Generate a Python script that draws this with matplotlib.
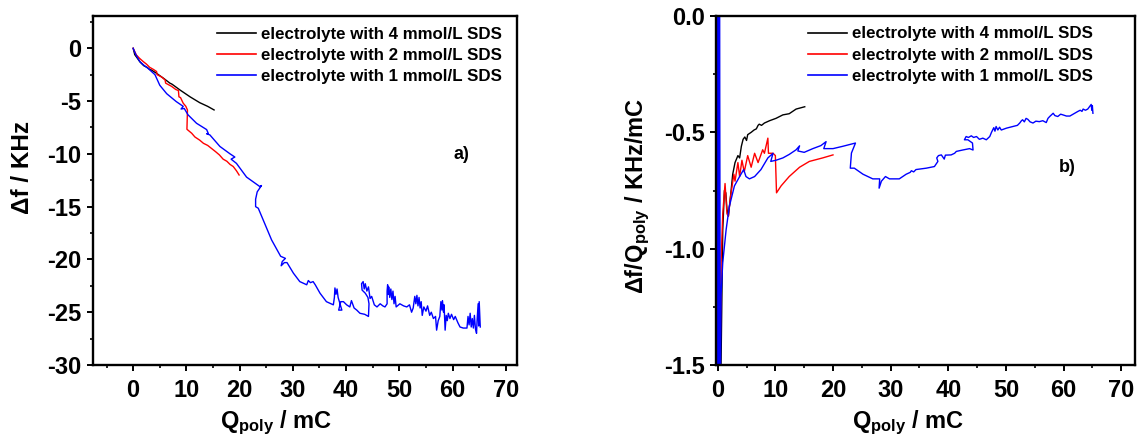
import matplotlib
matplotlib.use("Agg")
import matplotlib.pyplot as plt
from matplotlib.ticker import MultipleLocator

plt.rcParams['font.family'] = ['Liberation Sans', 'DejaVu Sans']
plt.rcParams['font.weight'] = 'bold'
plt.rcParams['mathtext.fontset'] = 'custom'
plt.rcParams['mathtext.rm'] = 'Liberation Sans:bold'
plt.rcParams['mathtext.bf'] = 'Liberation Sans:bold'
plt.rcParams['mathtext.it'] = 'Liberation Sans:bold'

labels = ["electrolyte with 4 mmol/L SDS",
          "electrolyte with 2 mmol/L SDS",
          "electrolyte with 1 mmol/L SDS"]
colors = ["#000000", "#ff0000", "#0000ff"]

# ---- panel a: delta f vs Q ----
q_black_a = [0, 0.3, 0.8, 1.3, 2.0, 2.6, 3.1, 3.4, 4.4, 5.3, 5.6, 6.9, 7.3, 8.8, 10.7, 12.5, 14.0, 15.2]
df_black_a = [0, -0.6, -0.95, -1.3, -1.65, -1.8, -2.0, -2.05, -2.37, -2.7, -2.8, -3.3, -3.4, -3.95, -4.6, -5.15, -5.5, -5.84]

q_red_a = [0, 0.6, 1.2, 1.9, 2.5, 3.1, 3.8, 4.4, 4.5, 5.3, 6.0, 6.1, 7.2, 8.0, 8.5, 8.6, 8.9, 9.4, 9.9, 10.2,
           10.1, 11.0, 11.6, 12.5, 13.2, 14.0, 15.0, 15.5, 16.2, 16.9, 17.6, 18.2, 18.8, 19.4, 19.9]
df_red_a = [0, -0.63, -0.95, -1.26, -1.5, -1.8, -2.0, -2.2, -2.5, -2.7, -3.0, -3.3, -3.6, -3.9, -4.0, -4.6, -4.67, -5.2, -5.5, -5.85,
            -7.67, -8.05, -8.4, -8.7, -9.0, -9.2, -9.6, -9.8, -10.1, -10.5, -10.7, -11.0, -11.2, -11.6, -12.0]

q_blue_a = [0, 0.5, 1.25, 2.0, 2.8, 4.1, 5.0, 6.3, 8.1, 9.4, 9.0, 9.6, 10.3, 11.9, 13.8, 14.1, 13.8, 14.4, 16.3, 18.2,
            19.1, 18.4, 19.4, 21.3, 23.8, 24.1, 23.3, 23.0, 23.0, 23.5, 24.7, 26.0, 27.7, 28.6, 28.0, 27.8, 28.4, 28.9,
            30.1, 31.3, 32.6, 32.9, 33.3, 33.8, 34.2, 35.1, 36.3, 37.6,
            37.8, 37.9, 38.1, 38.3, 38.5, 38.9, 39.2, 38.6, 39.0, 39.5, 40.1, 40.7, 41.0, 41.5, 42.0, 42.6, 43.5, 44.2,
            44.3, 44.1, 43.6, 43.0, 42.9, 43.2, 43.4, 43.6, 43.9, 44.2, 44.5, 44.8, 45.3, 45.8, 46.4, 46.9, 47.3, 47.7,
            47.7, 47.8, 47.9, 48.0, 48.2, 48.4, 48.6, 48.8, 49.0, 49.2, 49.4, 50.1, 50.8, 51.4, 51.9, 52.3, 52.6,
            52.9, 53.1, 53.3, 53.5, 53.7, 53.9, 54.1, 54.3, 54.6, 55.0, 55.3, 55.7, 56.0, 56.4, 56.8, 57.0, 57.3, 57.6,
            57.8, 58.0, 58.1, 58.3, 58.4, 58.6, 58.8, 59.0, 59.2, 59.5, 59.8, 60.2, 60.5, 61.0, 61.4, 62.0, 62.7,
            62.9, 63.1, 63.3, 63.5, 63.7, 63.9, 64.1, 64.3, 64.5, 64.6, 64.8, 64.9, 65.0, 65.2]
df_blue_a = [0, -0.6, -1.26, -1.6, -1.9, -2.5, -3.5, -4.3, -5.05, -5.5, -5.75, -5.7, -6.3, -7.1, -7.7, -8.05, -8.1, -8.2, -9.3, -10.0,
             -10.3, -10.5, -10.9, -12.2, -13.1, -13.0, -13.6, -14.3, -15.0, -15.15, -16.6, -18.15, -19.7, -19.9, -20.2, -20.6, -20.3, -20.3,
             -21.3, -22.1, -22.4, -22.0, -22.2, -22.1, -22.4, -23.2, -24.0, -24.3,
             -23.6, -22.7, -23.3, -22.8, -23.6, -24.3, -24.8, -24.8, -24.0, -24.0, -24.3, -24.5, -23.9, -24.6, -24.8, -25.1, -25.2, -25.4,
             -24.2, -23.6, -23.2, -22.9, -22.3, -22.1, -22.8, -22.3, -23.0, -22.6, -23.7, -23.5, -24.3, -24.5, -24.2, -24.4, -24.5, -24.2,
             -23.0, -22.4, -23.3, -22.6, -23.6, -22.8, -23.8, -23.0, -24.2, -23.5, -24.5, -24.2, -24.4, -24.5, -24.3, -25.0, -24.6,
             -23.5, -24.2, -23.4, -24.4, -23.6, -24.6, -24.0, -25.3, -24.5, -24.9, -24.4, -25.3, -25.0, -25.6, -25.4, -26.7, -25.8, -25.4,
             -24.0, -24.8, -23.9, -25.0, -24.3, -26.7, -25.3, -25.8, -25.1, -25.6, -25.2, -25.7, -25.4, -26.0, -26.4, -26.5, -26.5,
             -25.4, -26.2, -25.1, -26.4, -25.6, -26.5, -25.3, -26.6, -27.0, -25.8, -24.2, -26.3, -24.0, -26.4]

# ---- panel b: delta f / Q vs Q ----
q_black_b = [0.45, 0.58, 0.87, 1.16, 1.4, 1.6, 1.85, 2.2, 2.6, 3.0, 3.5, 3.8, 4.1, 4.4, 4.7, 5.0, 5.2, 5.8, 6.3, 6.7,
             7.0, 7.2, 7.6, 8.1, 9.0, 10.1, 11.3, 12.4, 13.6, 15.1]
r_black_b = [-1.6, -1.49, -0.92, -0.75, -0.76, -0.83, -0.86, -0.78, -0.68, -0.63, -0.60, -0.61, -0.56, -0.53, -0.52, -0.535, -0.51,
             -0.50, -0.49, -0.485, -0.47, -0.465, -0.47, -0.46, -0.45, -0.44, -0.425, -0.42, -0.40, -0.39]

q_red_b = [0.35, 0.41, 0.58, 0.87, 1.27, 1.6, 1.85, 2.2, 2.8, 3.0, 3.5, 3.8, 4.2, 4.6, 5.2, 5.8, 6.4, 7.0, 7.8, 8.1,
           8.7, 8.8, 9.6, 10.0, 10.2, 11.0, 12.4, 14.2, 15.9, 18.2, 20.0]
r_red_b = [-1.6, -1.49, -1.06, -0.85, -0.72, -0.85, -0.86, -0.78, -0.68, -0.71, -0.63, -0.69, -0.62, -0.67, -0.60, -0.65, -0.59,
           -0.63, -0.575, -0.59, -0.525, -0.59, -0.59, -0.60, -0.76, -0.73, -0.69, -0.65, -0.625, -0.61, -0.597]

q_blue_b = [0.0, 0.08, 0.15, 0.22, 0.3, 0.45, 0.5, 0.58, 0.87, 1.45, 2.0, 2.9, 3.8, 4.5, 4.9, 5.5, 6.4, 7.5, 8.7, 9.6, 9.2, 10.1, 11.3,
            12.4, 13.6, 14.2, 13.9, 15.0, 16.5, 17.9, 18.8, 18.4, 20.0, 21.7, 23.9, 23.2, 23.0, 23.7, 25.2, 26.9, 28.1,
            28.0, 28.4, 29.1, 29.8, 31.5, 32.7, 33.4, 33.6, 34.0, 34.4, 36.2, 37.6, 38.2, 38.0, 38.3, 38.8, 39.3, 39.5,
            40.5, 41.1, 41.4, 42.5, 43.7, 44.3, 44.2, 43.4, 42.8, 43.1, 43.5, 44.0, 44.4, 44.9, 45.4, 46.0, 46.6, 47.2,
            47.5, 47.7, 47.9, 48.1, 48.3, 48.6, 48.9, 49.2, 50.1, 51.2, 52.0, 52.4, 52.7, 52.9, 53.2, 53.5, 53.8, 54.2,
            54.7, 55.2, 55.8, 56.4, 57.0, 57.3, 57.6, 57.9, 58.2, 58.5, 59.0, 59.5, 59.9, 60.5, 61.1, 61.8, 62.5, 62.9,
            63.2, 63.4, 63.8, 64.2, 64.5, 64.8, 64.9, 65.0, 65.1]
r_blue_b = [0.3, -1.7, 0.3, -1.7, 0.3, -1.6, -1.45, -1.2, -1.06, -0.92, -0.82, -0.73, -0.69, -0.66, -0.69, -0.70, -0.69, -0.66, -0.61, -0.59,
            -0.625, -0.62, -0.61, -0.595, -0.575, -0.558, -0.58, -0.586, -0.57, -0.557, -0.54, -0.57, -0.57, -0.56, -0.546,
            -0.589, -0.654, -0.654, -0.68, -0.70, -0.70, -0.74, -0.71, -0.69, -0.70, -0.70, -0.68, -0.672, -0.665, -0.67,
            -0.66, -0.654, -0.647, -0.625, -0.61, -0.60, -0.597, -0.615, -0.598, -0.597, -0.59, -0.582, -0.576, -0.57,
            -0.576, -0.546, -0.532, -0.532, -0.518, -0.522, -0.515, -0.522, -0.518, -0.53, -0.525, -0.532, -0.518, -0.50,
            -0.49, -0.48, -0.495, -0.475, -0.49, -0.478, -0.49, -0.482, -0.475, -0.47, -0.46, -0.45, -0.446, -0.455, -0.44,
            -0.444, -0.455, -0.46, -0.452, -0.454, -0.45, -0.458, -0.44, -0.432, -0.425, -0.418, -0.428, -0.432, -0.422,
            -0.425, -0.43, -0.43, -0.42, -0.41, -0.405, -0.41, -0.40, -0.405, -0.40, -0.39, -0.38, -0.405, -0.385, -0.418]

fig = plt.figure(figsize=(11.41, 4.44), dpi=100)
W, H = 1141.0, 444.0
axA = fig.add_axes([92.7 / W, (H - 365) / H, (517 - 92.7) / W, 349 / H])
axB = fig.add_axes([716.0 / W, (H - 365) / H, (1135 - 716.0) / W, 349 / H])

LW = 1.0
axA.plot(q_black_a, df_black_a, color=colors[0], lw=LW, label=labels[0])
axA.plot(q_red_a, df_red_a, color=colors[1], lw=LW, label=labels[1])
axA.plot(q_blue_a, df_blue_a, color=colors[2], lw=LW, label=labels[2])

axB.plot(q_black_b, r_black_b, color=colors[0], lw=LW, label=labels[0])
axB.plot(q_red_b, r_red_b, color=colors[1], lw=LW, label=labels[1])
axB.plot(q_blue_b, r_blue_b, color=colors[2], lw=LW, label=labels[2])

axA.set_xlim(-7.6, 72.1)
axA.set_ylim(-30, 3.06)
axA.xaxis.set_major_locator(MultipleLocator(10))
axA.xaxis.set_minor_locator(MultipleLocator(5))
axA.yaxis.set_major_locator(MultipleLocator(5))
axA.yaxis.set_minor_locator(MultipleLocator(2.5))
axA.set_xticks([0, 10, 20, 30, 40, 50, 60, 70])

axB.set_xlim(-0.3, 72.4)
axB.set_ylim(-1.5, 0.0)
axB.xaxis.set_major_locator(MultipleLocator(10))
axB.xaxis.set_minor_locator(MultipleLocator(5))
axB.yaxis.set_major_locator(MultipleLocator(0.5))
axB.yaxis.set_minor_locator(MultipleLocator(0.25))
axB.set_yticks([-1.5, -1.0, -0.5, 0.0])
axB.set_yticklabels(["-1.5", "-1.0", "-0.5", "0.0"])

for ax in (axA, axB):
    for s in ax.spines.values():
        s.set_linewidth(1.7)
    ax.tick_params(which='major', direction='out', length=4, width=1.4, labelsize=17, pad=4)
    ax.tick_params(which='minor', direction='out', length=2.5, width=1.2)
    for lab in ax.get_xticklabels() + ax.get_yticklabels():
        lab.set_fontweight('bold')

axA.set_yticklabels([f"{int(v)}" for v in axA.get_yticks()])
axA.tick_params(axis='x', pad=6)
axB.tick_params(axis='x', pad=6)

axA.set_xlabel(r'$\mathbf{Q_{poly}}$ / mC', fontsize=17, fontweight='bold')
axA.set_ylabel('Δf / KHz', fontsize=17.5, fontweight='bold')
axA.xaxis.set_label_coords(0.432, -0.125)
axA.yaxis.set_label_coords(-0.138, 0.567)

axB.set_xlabel(r'$\mathbf{Q_{poly}}$ / mC', fontsize=17, fontweight='bold')
axB.set_ylabel(r'Δf/$\mathbf{Q_{poly}}$ / KHz/mC', fontsize=17, fontweight='bold')
axB.xaxis.set_label_coords(0.458, -0.125)
axB.yaxis.set_label_coords(-0.152, 0.484)

legA = axA.legend(loc='upper left', bbox_to_anchor=(0.293, 0.968), frameon=False,
                  prop={'size': 12.2, 'weight': 'bold'}, handlelength=2.3, handletextpad=0.3,
                  labelspacing=0.36, borderpad=0, borderaxespad=0)
legB = axB.legend(loc='upper left', bbox_to_anchor=(0.219, 0.970), frameon=False,
                  prop={'size': 12.2, 'weight': 'bold'}, handlelength=2.3, handletextpad=0.3,
                  labelspacing=0.36, borderpad=0, borderaxespad=0)
for leg in (legA, legB):
    for ln in leg.get_lines():
        ln.set_linewidth(1.2)

axA.text(0.868, 0.602, 'a)', transform=axA.transAxes, fontsize=13, fontweight='bold',
         ha='center', va='center')
axB.text(0.838, 0.567, 'b)', transform=axB.transAxes, fontsize=13, fontweight='bold',
         ha='center', va='center')

fig.savefig('out.png', dpi=100)
